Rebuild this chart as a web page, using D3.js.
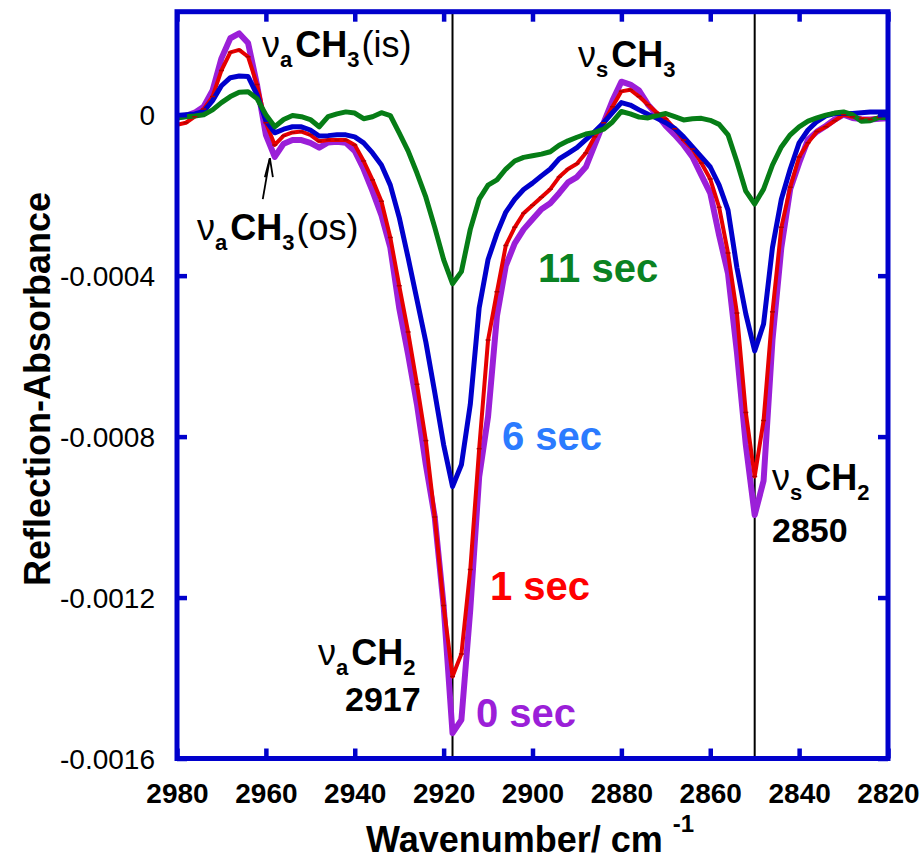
<!DOCTYPE html>
<html>
<head>
<meta charset="utf-8">
<script src="https://cdn.jsdelivr.net/npm/d3@7"></script>
<style>
  html, body { margin: 0; padding: 0; background: #fff; }
  svg text { font-family: "Liberation Sans", Arial, sans-serif; }
</style>
</head>
<body>
<svg id="chart"></svg>
<script>
(function(){
    "use strict";

    // wavenumber grid (cm-1), read every 2 cm-1 off the picture
    const wavenumbers = [2980,2978,2976,2974,2972,2970,2968,2966,2964,2962,
        2960,2958,2956,2954,2952,2950,2948,2946,2944,2942,
        2940,2938,2936,2934,2932,2930,2928,2926,2924,2922,
        2920,2918,2916,2914,2912,2910,2908,2906,2904,2902,
        2900,2898,2896,2894,2892,2890,2888,2886,2884,2882,
        2880,2878,2876,2874,2872,2870,2868,2866,2864,2862,
        2860,2858,2856,2854,2852,2850,2848,2846,2844,2842,
        2840,2838,2836,2834,2832,2830,2828,2826,2824,2822,2820];

    // reflection-absorbance, in units of 1e-4
    const sec0 = [-0.06,-0.03,0.05,0.2,0.6,1.4,1.9,2.02,1.78,0.75,
        -0.5,-1.05,-0.72,-0.63,-0.63,-0.7,-0.82,-0.69,-0.67,-0.7,
        -0.9,-1.35,-1.9,-2.5,-3.3,-4.8,-5.95,-7.2,-8.7,-10.0,
        -12.2,-15.37,-15.04,-12.3,-9.0,-7.5,-5.0,-3.75,-3.2,-2.85,
        -2.6,-2.35,-2.2,-1.95,-1.68,-1.55,-1.3,-0.75,-0.2,0.35,
        0.82,0.75,0.6,0.25,0.0,-0.28,-0.5,-0.75,-1.05,-1.5,
        -1.95,-3.0,-3.95,-5.9,-8.2,-9.95,-9.1,-5.6,-3.3,-1.85,
        -1.2,-0.62,-0.42,-0.28,-0.12,0.0,-0.08,-0.11,-0.12,-0.1,-0.09];

    const sec1 = [-0.25,-0.2,-0.05,0.14,0.45,1.1,1.55,1.61,1.44,0.75,
        -0.2,-0.75,-0.52,-0.44,-0.42,-0.5,-0.66,-0.63,-0.63,-0.63,
        -0.75,-1.15,-1.62,-2.15,-3.05,-4.25,-5.4,-6.7,-8.1,-10.0,
        -12.2,-13.96,-13.4,-11.3,-8.3,-5.6,-4.4,-3.25,-2.8,-2.45,
        -2.25,-2.05,-1.85,-1.55,-1.35,-1.22,-0.95,-0.55,-0.2,0.2,
        0.58,0.62,0.45,0.25,0.05,-0.1,-0.35,-0.63,-0.85,-1.2,
        -1.6,-2.3,-3.44,-4.93,-7.4,-8.99,-7.6,-4.9,-2.8,-1.8,
        -1.05,-0.7,-0.42,-0.3,-0.15,0.0,-0.05,-0.1,-0.12,-0.07,-0.05];

    const sec6 = [-0.02,0.0,0.02,0.08,0.35,0.72,0.92,0.96,0.95,0.5,
        -0.15,-0.45,-0.36,-0.3,-0.3,-0.38,-0.53,-0.52,-0.5,-0.5,
        -0.55,-0.7,-0.95,-1.25,-1.75,-2.55,-3.55,-4.6,-5.65,-6.9,
        -8.2,-9.24,-8.7,-7.2,-4.8,-3.6,-2.95,-2.42,-2.1,-1.86,
        -1.7,-1.52,-1.35,-1.1,-0.96,-0.82,-0.62,-0.42,-0.2,0.05,
        0.3,0.24,0.12,0.01,-0.09,-0.2,-0.34,-0.55,-0.8,-1.05,
        -1.3,-1.75,-2.37,-3.8,-4.95,-5.87,-5.2,-3.3,-2.1,-1.35,
        -0.7,-0.38,-0.17,-0.03,0.03,0.03,0.03,0.05,0.07,0.07,0.07];

    const sec11 = [-0.08,-0.05,-0.03,0.0,0.12,0.3,0.45,0.56,0.57,0.4,
        0.0,-0.3,-0.12,-0.02,-0.05,-0.12,-0.3,-0.05,0.02,0.07,
        0.04,-0.1,-0.05,0.05,-0.02,-0.45,-0.9,-1.45,-2.05,-2.8,
        -3.6,-4.2,-3.9,-2.85,-2.1,-1.75,-1.62,-1.35,-1.15,-1.06,
        -1.02,-0.98,-0.92,-0.76,-0.65,-0.56,-0.48,-0.44,-0.36,-0.18,
        0.08,0.02,-0.06,-0.08,-0.02,0.03,-0.05,-0.13,-0.1,-0.09,
        -0.14,-0.24,-0.5,-1.17,-1.9,-2.22,-1.85,-1.25,-0.8,-0.5,
        -0.3,-0.16,-0.08,-0.01,0.04,0.07,0.0,-0.16,-0.15,-0.07,-0.07];

    const unit = 1e-4;
    const xTicks = [2980, 2960, 2940, 2920, 2900, 2880, 2860, 2840, 2820];
    const yTicks = [0, -0.0004, -0.0008, -0.0012, -0.0016];
    const yTickLabels = ["0", "-0.0004", "-0.0008", "-0.0012", "-0.0016"];
    const peakLines = [2918, 2850];

    const series = [
        { name: "0 sec", values: sec0, color: "#9b1fd8", width: 6 },
        { name: "1 sec", values: sec1, color: "#e60000", width: 4 },
        { name: "6 sec", values: sec6, color: "#0000cc", width: 5 },
        { name: "11 sec", values: sec11, color: "#067d16", width: 5 }
    ];

    const width = 924, height = 861;
    const frameBlue = "#0000cc";

    const svg = d3.select("#chart")
        .attr("width", width)
        .attr("height", height);

    const x = d3.scaleLinear().domain([2980, 2820]).range([177, 888]);
    const y = d3.scaleLinear().domain([-0.0016, 0.000256]).range([758.5, 11.7]);

    const clipId = "plot-clip";
    svg.append("clipPath").attr("id", clipId)
        .append("rect")
        .attr("x", x(2980)).attr("y", y(0.000256))
        .attr("width", x(2820) - x(2980))
        .attr("height", y(-0.0016) - y(0.000256));

    // peak position lines
    svg.append("g").selectAll("line")
        .data(peakLines)
        .join("line")
        .attr("x1", d => x(d)).attr("x2", d => x(d))
        .attr("y1", y(0.000256)).attr("y2", y(-0.0016))
        .attr("stroke", "#000")
        .attr("stroke-width", 2);

    // spectra
    const line = d3.line()
        .x((d, i) => x(wavenumbers[i]))
        .y(d => y(d * unit));

    const plot = svg.append("g").attr("clip-path", `url(#${clipId})`);

    plot.selectAll("path.spec")
        .data(series)
        .join("path")
        .attr("class", "spec")
        .attr("fill", "none")
        .attr("stroke", d => d.color)
        .attr("stroke-width", d => d.width)
        .attr("stroke-linejoin", "round")
        .attr("d", d => line(d.values));

    // little point marks on the 1 sec trace
    plot.append("g").selectAll("line")
        .data(sec1)
        .join("line")
        .attr("x1", (d, i) => x(wavenumbers[i]) - 2.5)
        .attr("x2", (d, i) => x(wavenumbers[i]) + 2.5)
        .attr("y1", d => y(d * unit))
        .attr("y2", d => y(d * unit))
        .attr("stroke", "#b00000")
        .attr("stroke-width", 1.5);

    // axes: inward ticks on all four sides
    function styleAxis(g) {
        g.select(".domain").remove();
        g.selectAll(".tick line")
            .attr("stroke", frameBlue)
            .attr("stroke-width", 4.5);
    }

    svg.append("g")
        .attr("transform", `translate(0,${y(-0.0016)})`)
        .call(d3.axisBottom(x).tickValues(xTicks).tickSize(-10).tickPadding(25).tickFormat(d3.format("d")))
        .call(styleAxis)
        .call(g => g.selectAll(".tick text")
            .attr("fill", "#000")
            .style("font-size", "28px")
            .style("font-weight", "bold"));

    svg.append("g")
        .attr("transform", `translate(0,${y(0.000256)})`)
        .call(d3.axisTop(x).tickValues(xTicks).tickSize(-10).tickFormat(""))
        .call(styleAxis);

    svg.append("g")
        .attr("transform", `translate(${x(2980)},0)`)
        .call(d3.axisLeft(y).tickValues(yTicks).tickSize(-10).tickPadding(22)
            .tickFormat((d, i) => yTickLabels[i]))
        .call(styleAxis)
        .call(g => g.selectAll(".tick text")
            .attr("fill", "#000")
            .attr("dy", "0.36em")
            .style("font-size", "28px"));

    svg.append("g")
        .attr("transform", `translate(${x(2820)},0)`)
        .call(d3.axisRight(y).tickValues(yTicks).tickSize(-10).tickFormat(""))
        .call(styleAxis);

    // frame
    svg.append("rect")
        .attr("x", x(2980)).attr("y", y(0.000256))
        .attr("width", x(2820) - x(2980))
        .attr("height", y(-0.0016) - y(0.000256))
        .attr("fill", "none")
        .attr("stroke", frameBlue)
        .attr("stroke-width", 5);

    // axis titles
    svg.append("text")
        .attr("transform", `translate(50,389) rotate(-90)`)
        .attr("text-anchor", "middle")
        .style("font-size", "36px")
        .style("font-weight", "bold")
        .text("Reflection-Absorbance");

    const xt = svg.append("text")
        .attr("x", 366).attr("y", 852)
        .style("font-size", "36px")
        .style("font-weight", "bold");
    xt.append("tspan").text("Wavenumber/ cm");
    xt.append("tspan").attr("dx", 10).attr("dy", -20).style("font-size", "24px").text("-1");

    // time labels
    const timeLabels = [
        { t: "11 sec", x: 538, y: 282, c: "#0a8222" },
        { t: "6 sec", x: 502, y: 450, c: "#2b7bff" },
        { t: "1 sec", x: 490, y: 600, c: "#ff0000" },
        { t: "0 sec", x: 476, y: 727, c: "#9b1fd8" }
    ];
    svg.append("g").selectAll("text")
        .data(timeLabels)
        .join("text")
        .attr("x", d => d.x).attr("y", d => d.y)
        .attr("fill", d => d.c)
        .style("font-size", "40px")
        .style("font-weight", "bold")
        .text(d => d.t);

    // band assignments: nu_sub group sub (suffix)
    function band(px, py, mode, group, sub, suffix) {
        const t = svg.append("text").attr("x", px).attr("y", py)
            .style("font-size", "36px");
        t.append("tspan").text("\u03bd");
        t.append("tspan").attr("dy", 10).style("font-size", "22px").style("font-weight", "bold").text(mode);
        t.append("tspan").attr("dy", -10).attr("dx", 3).style("font-weight", "bold").text(group);
        t.append("tspan").attr("dy", 10).style("font-size", "22px").style("font-weight", "bold").text(sub);
        if (suffix) t.append("tspan").attr("dy", -10).attr("dx", 2).text(suffix);
    }

    band(262, 57, "a", "CH", "3", "(is)");
    band(197, 240, "a", "CH", "3", "(os)");
    band(578, 67, "s", "CH", "3");
    band(318, 665, "a", "CH", "2");
    band(772, 490, "s", "CH", "2");

    svg.append("text").attr("x", 345).attr("y", 711)
        .style("font-size", "34px").style("font-weight", "bold").text("2917");
    svg.append("text").attr("x", 772).attr("y", 542)
        .style("font-size", "34px").style("font-weight", "bold").text("2850");

    // arrow to the out-of-plane CH3 dip
    const tip = [x(2959.1), y(-0.000108)];
    const tail = [x(2960.7), y(-0.00021)];
    svg.append("line")
        .attr("x1", tail[0]).attr("y1", tail[1])
        .attr("x2", tip[0]).attr("y2", tip[1])
        .attr("stroke", "#000").attr("stroke-width", 1.8);
    svg.append("path")
        .attr("d", `M${tip[0] - 5},${tip[1] + 19}L${tip[0]},${tip[1]}L${tip[0] + 3},${tip[1] + 19}`)
        .attr("fill", "none")
        .attr("stroke", "#000").attr("stroke-width", 1.8);
})();
</script>
</body>
</html>
